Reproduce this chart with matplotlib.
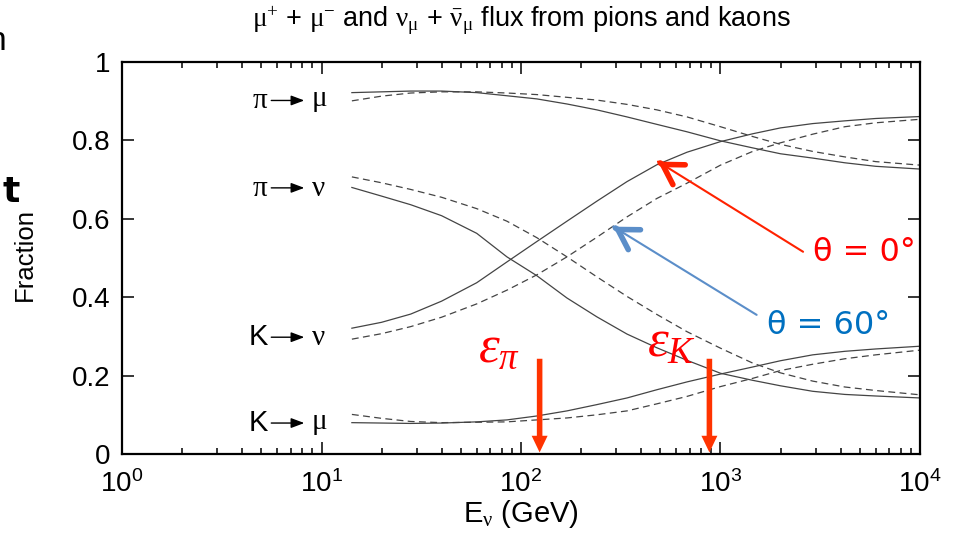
import numpy as np
import matplotlib
matplotlib.use("Agg")
import matplotlib.pyplot as plt

plt.rcParams['font.family'] = ['Liberation Sans', 'DejaVu Sans']
plt.rcParams['mathtext.fontset'] = 'custom'
plt.rcParams['mathtext.rm'] = 'Liberation Serif'
plt.rcParams['mathtext.it'] = 'Liberation Serif:italic'
plt.rcParams['mathtext.sf'] = 'Liberation Sans'

# ── fractions vs neutrino energy (GeV); solid = theta 0, dashed = theta 60 ──
energy = [14.2, 20, 28, 40, 60, 85, 120, 170, 240, 340, 480, 680,
          1000, 1450, 2000, 2900, 4200, 6000, 10000]

pi_mu_0  = [0.922, 0.924, 0.926, 0.926, 0.922, 0.914, 0.906, 0.893, 0.878, 0.860,
            0.841, 0.822, 0.799, 0.781, 0.766, 0.755, 0.743, 0.734, 0.727]
pi_mu_60 = [0.901, 0.913, 0.921, 0.924, 0.924, 0.921, 0.917, 0.910, 0.903, 0.892,
            0.878, 0.860, 0.835, 0.810, 0.790, 0.772, 0.758, 0.746, 0.737]
pi_nu_0  = [0.680, 0.658, 0.636, 0.608, 0.563, 0.503, 0.455, 0.398, 0.350, 0.306,
            0.271, 0.239, 0.206, 0.188, 0.174, 0.160, 0.152, 0.148, 0.143]
pi_nu_60 = [0.707, 0.692, 0.675, 0.655, 0.626, 0.594, 0.552, 0.503, 0.452, 0.402,
            0.356, 0.312, 0.270, 0.232, 0.207, 0.186, 0.171, 0.162, 0.151]
k_nu_0   = [0.321, 0.336, 0.357, 0.390, 0.437, 0.490, 0.542, 0.594, 0.645, 0.695,
            0.738, 0.770, 0.797, 0.817, 0.832, 0.843, 0.850, 0.856, 0.861]
k_nu_60  = [0.293, 0.307, 0.325, 0.349, 0.383, 0.418, 0.457, 0.503, 0.553, 0.605,
            0.652, 0.691, 0.737, 0.772, 0.794, 0.816, 0.835, 0.845, 0.854]
k_mu_0   = [0.080, 0.079, 0.078, 0.079, 0.082, 0.087, 0.097, 0.110, 0.126, 0.143,
            0.164, 0.184, 0.204, 0.222, 0.238, 0.253, 0.262, 0.268, 0.275]
k_mu_60  = [0.101, 0.091, 0.083, 0.080, 0.081, 0.082, 0.087, 0.092, 0.100, 0.110,
            0.128, 0.147, 0.172, 0.193, 0.213, 0.229, 0.243, 0.253, 0.265]

# channel labels: (parent, daughter, fraction where the label sits)
channels = [(r'$\mathrm{\pi}$', r'$\mathrm{\mu}$', 0.902),
            (r'$\mathrm{\pi}$', r'$\mathrm{\nu}$', 0.679),
            ('K', r'$\mathrm{\nu}$', 0.298),
            ('K', r'$\mathrm{\mu}$', 0.079)]

# critical energies (GeV)
eps_pi = 124
eps_k = 880

LINE_COLOR = '#444444'
RED = '#ff0000'
ARROW_RED = '#ff3300'
BLUE_TEXT = '#0070c0'
BLUE_ARROW = '#5b8ec9'


def draw_pair(ax, y0, y60):
    ax.plot(energy, y0, color=LINE_COLOR, lw=0.9)
    ax.plot(energy, y60, color=LINE_COLOR, lw=0.9, dashes=(5.5, 3.5))


def theta_arrow(ax, tip, tail, color):
    # thin shaft plus a heavy open head, drawn separately
    ax.annotate('', xy=tip, xytext=tail,
                arrowprops=dict(arrowstyle='-', lw=1.5, color=color,
                                shrinkA=0, shrinkB=0))
    lx = np.log10(tip[0]) + 0.015 * (np.log10(tail[0]) - np.log10(tip[0]))
    ly = tip[1] + 0.015 * (tail[1] - tip[1])
    ax.annotate('', xy=tip, xytext=(10 ** lx, ly),
                arrowprops=dict(arrowstyle='->, head_length=0.7, head_width=0.42',
                                mutation_scale=20, lw=4.0, color=color,
                                shrinkA=0, shrinkB=0))


def eps_arrow(ax, x):
    ax.annotate('', xy=(x, 0.004), xytext=(x, 0.243),
                arrowprops=dict(arrowstyle='simple, head_length=1.2, head_width=1.15, tail_width=0.4',
                                mutation_scale=10, fc=ARROW_RED, ec='none',
                                shrinkA=0, shrinkB=0))


fig = plt.figure(figsize=(9.57, 5.34), dpi=100)
ax = fig.add_axes([0.1275, 0.1498, 0.8338, 0.734])

draw_pair(ax, pi_mu_0, pi_mu_60)
draw_pair(ax, pi_nu_0, pi_nu_60)
draw_pair(ax, k_nu_0, k_nu_60)
draw_pair(ax, k_mu_0, k_mu_60)

ax.set_xscale('log')
ax.set_xlim(1, 1e4)
ax.set_ylim(0, 1)
ax.set_yticks([0, 0.2, 0.4, 0.6, 0.8, 1.0])
ax.set_yticklabels(['0', '0.2', '0.4', '0.6', '0.8', '1'])

for side in ax.spines.values():
    side.set_linewidth(1.6)
ax.tick_params(which='both', direction='in', top=True, right=True,
               width=1.1, labelsize=20, colors='black')
ax.tick_params(axis='y', which='major', length=8.5, pad=8.5)
ax.tick_params(axis='x', which='major', length=8.5, pad=12)
ax.tick_params(which='minor', length=4.3)

ax.set_xlabel(r'E$_{\mathrm{\nu}}$ (GeV)', fontsize=21, labelpad=0)
ax.set_ylabel('Fraction', fontsize=18.5)
ax.yaxis.label.set_verticalalignment('center')
ax.yaxis.set_label_coords(-0.122, 0.508)

fig.text(0.5444, 0.962,
         r'$\mathrm{\mu}^{+}$ + $\mathrm{\mu}^{-}$ and $\mathrm{\nu}_{\mathrm{\mu}}$ + '
         r'$\bar{\mathrm{\nu}}_{\mathrm{\mu}}$ flux from pions and kaons',
         ha='center', va='center', fontsize=19.5)

# channel labels with a small arrow between parent and daughter
for parent, child, yl in channels:
    ax.text(5.4, yl, parent, ha='right', va='center', fontsize=21)
    ax.annotate('', xy=(8.2, yl), xytext=(5.6, yl),
                arrowprops=dict(arrowstyle='-|>, head_length=0.8, head_width=0.3',
                                mutation_scale=10, lw=1.0, color='black',
                                shrinkA=0, shrinkB=0))
    ax.text(8.9, yl, child, ha='left', va='center', fontsize=21)

# zenith-angle annotations
theta_arrow(ax, (486, 0.746), (2594, 0.516), '#ff2200')
ax.text(2911, 0.513, '\u03b8 = 0\u00b0', color=RED, fontsize=23,
        ha='left', va='center', family='DejaVu Sans')
theta_arrow(ax, (290, 0.580), (1518, 0.355), BLUE_ARROW)
ax.text(1706, 0.329, '\u03b8 = 60\u00b0', color=BLUE_TEXT, fontsize=23,
        ha='left', va='center', family='DejaVu Sans')

# critical energies
eps_arrow(ax, eps_pi)
eps_arrow(ax, eps_k)
ax.text(60.9, 0.235, r'$\varepsilon_{\pi}$', color=RED, fontsize=38,
        ha='left', va='baseline')
ax.text(428, 0.247, r'$\varepsilon_{K}$', color=RED, fontsize=38,
        ha='left', va='baseline')

# slide text clipped at the left edge
fig.text(0.007, 1 - 42 / 534, 'n', ha='right', va='center', fontsize=24)
fig.text(0.003, 1 - 192 / 534, 't', ha='left', va='center', fontsize=26,
         fontweight='bold', family='DejaVu Sans')

fig.savefig('out.png', dpi=100)
